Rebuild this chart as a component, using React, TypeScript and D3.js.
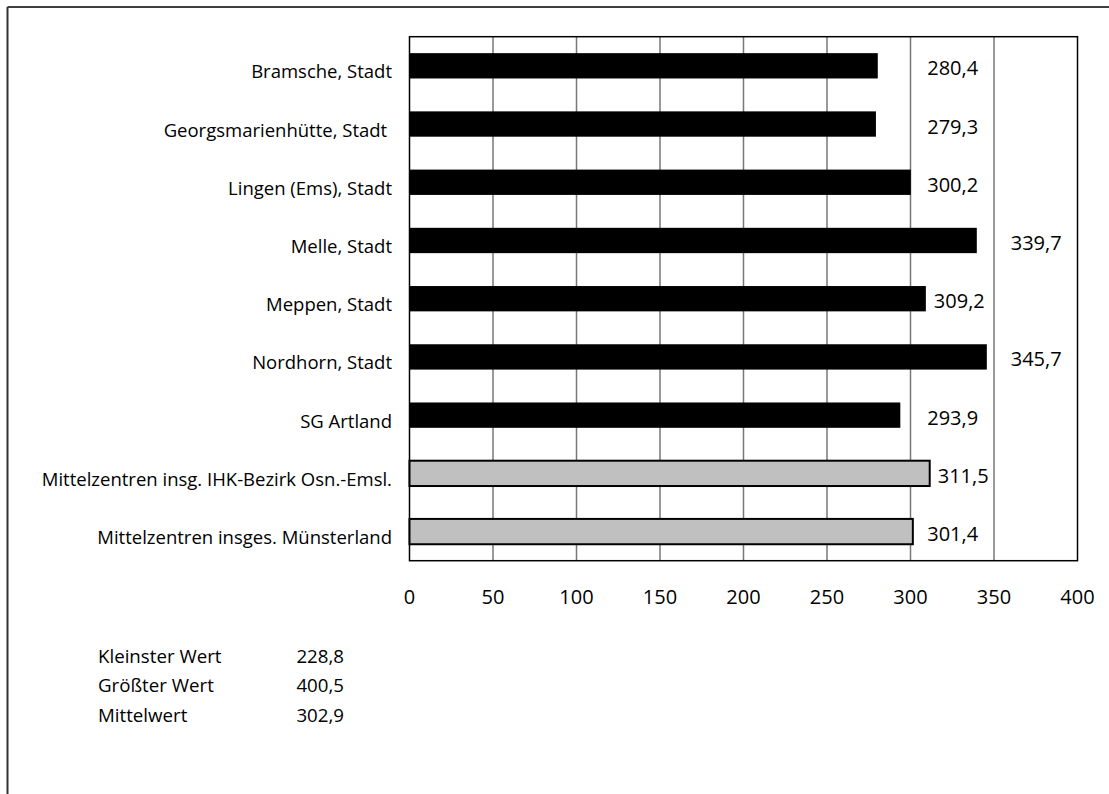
import React from "react";
import * as d3 from "d3";

const categories = [
  "Bramsche, Stadt",
  "Georgsmarienhütte, Stadt ",
  "Lingen (Ems), Stadt",
  "Melle, Stadt",
  "Meppen, Stadt",
  "Nordhorn, Stadt",
  "SG Artland",
  "Mittelzentren insg. IHK-Bezirk Osn.-Emsl.",
  "Mittelzentren insges. Münsterland",
];
const values = [280.4, 279.3, 300.2, 339.7, 309.2, 345.7, 293.9, 311.5, 301.4];
const isAggregate = [false, false, false, false, false, false, false, true, true];
const xTicks = [0, 50, 100, 150, 200, 250, 300, 350, 400];
const statLabels = ["Kleinster Wert", "Größter Wert", "Mittelwert"];
const statValues = ["228,8", "400,5", "302,9"];

const W = 1109;
const H = 794;
const FONT = "'Open Sans', 'Noto Sans', sans-serif";

const fmt = (v: number) => v.toFixed(1).replace(".", ",");

export default function App() {
  const x = d3.scaleLinear().domain([0, 400]).range([409.5, 1077.5]);
  const y = d3
    .scaleBand<string>()
    .domain(categories)
    .range([36.7, 560.7])
    .paddingInner(0.565)
    .paddingOuter(0.2825);
  const bw = y.bandwidth();
  const labelW = 50;

  const labelX = (v: number) => {
    const c1 = (x(300) + x(350)) / 2 - labelW / 2;
    let lx = Math.max(x(v) + 8, c1);
    if (lx + labelW > x(350) - 2) {
      lx = Math.max(x(v) + 8, (x(350) + x(400)) / 2 - labelW / 2);
    }
    return lx;
  };

  return (
    <svg
      width={W}
      height={H}
      style={{ position: "absolute", left: 0, top: 0, background: "#fff" }}
      fontFamily={FONT}
    >
      <rect x={0} y={0} width={W} height={H} fill="#fff" />
      {/* outer frame */}
      <line x1={7.5} y1={7} x2={W} y2={7} stroke="#000" strokeWidth={1.5} />
      <line x1={7.5} y1={7} x2={7.5} y2={H} stroke="#333" strokeWidth={2} />

      {/* gridlines */}
      {xTicks.slice(1, -1).map((t) => (
        <line
          key={"g" + t}
          x1={x(t)}
          x2={x(t)}
          y1={36.7}
          y2={560.7}
          stroke="#777"
          strokeWidth={1.5}
        />
      ))}
      {/* plot border */}
      <rect
        x={x(0)}
        y={36.7}
        width={x(400) - x(0)}
        height={524}
        fill="none"
        stroke="#000"
        strokeWidth={1.5}
      />

      {/* bars */}
      {categories.map((c, i) => {
        const y0 = y(c)!;
        return isAggregate[i] ? (
          <rect
            key={c}
            x={x(0)}
            y={y0}
            width={x(values[i]) - x(0)}
            height={bw}
            fill="#c0c0c0"
            stroke="#000"
            strokeWidth={2}
          />
        ) : (
          <rect
            key={c}
            x={x(0)}
            y={y0}
            width={x(values[i]) - x(0)}
            height={bw}
            fill="#000"
          />
        );
      })}

      {/* category labels */}
      {categories.map((c) => (
        <text
          key={"l" + c}
          x={392}
          y={y(c)! + bw / 2 + 5}
          textAnchor="end"
          dominantBaseline="central"
          fontSize={18.5}
          fill="#000"
          style={{ whiteSpace: "pre" }}
        >
          {c}
        </text>
      ))}

      {/* value labels */}
      {categories.map((c, i) => (
        <text
          key={"v" + c}
          x={labelX(values[i])}
          y={y(c)! + bw / 2 + 2}
          dominantBaseline="central"
          fontSize={20}
          fill="#000"
        >
          {fmt(values[i])}
        </text>
      ))}

      {/* x tick labels */}
      {xTicks.map((t) => (
        <text
          key={"t" + t}
          x={x(t)}
          y={596}
          textAnchor="middle"
          dominantBaseline="central"
          fontSize={20}
          fill="#000"
        >
          {t}
        </text>
      ))}

      {/* stats */}
      {statLabels.map((s, i) => (
        <g key={s}>
          <text x={98} y={655 + i * 29.5} dominantBaseline="central" fontSize={18.7} fill="#000">
            {s}
          </text>
          <text
            x={344}
            y={655 + i * 29.5}
            textAnchor="end"
            dominantBaseline="central"
            fontSize={18.7}
            fill="#000"
          >
            {statValues[i]}
          </text>
        </g>
      ))}
    </svg>
  );
}
